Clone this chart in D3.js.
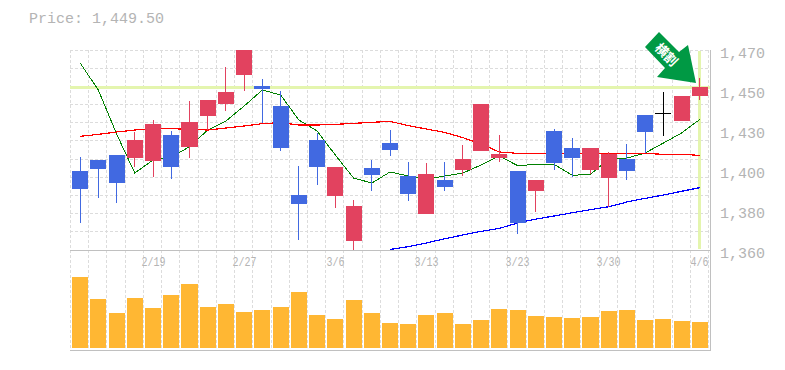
<!DOCTYPE html>
<html>
<head>
<meta charset="utf-8">
<script src="https://cdn.jsdelivr.net/npm/d3@7"></script>
<style>
  html, body { margin: 0; padding: 0; background: #fff; }
  text { font-family: "Liberation Mono", monospace; fill: #b4b4b4; }
</style>
</head>
<body>
<svg id="chart" width="785" height="370"></svg>
<script>
// 1. Data
const dates = ["2/19", "2/27", "3/6", "3/13", "3/23", "3/30", "4/6"];
const priceTicks = [1360, 1382, 1404, 1426, 1448, 1470];
const priceLabels = ["1,360", "1,380", "1,400", "1,430", "1,450", "1,470"];
const lastPrice = 1449.5;

const opens = [1403.5, 1409.5, 1412.25, 1410.6, 1408.95, 1423.25, 1416.65, 1433.7, 1440.3, 1456.25, 1450.2, 1439.2, 1390.25, 1420.5, 1389.7, 1365, 1405.1, 1418.85, 1400.7, 1379.8, 1398.5, 1404, 1414.45, 1410.6, 1403.45, 1392.45, 1425.45, 1416.1, 1404, 1399.6, 1410.05, 1434.25, 1435.2, 1430.95, 1444.7];
const closes = [1393.6, 1404.55, 1396.85, 1420.5, 1429.3, 1405.65, 1430.4, 1442.5, 1446.9, 1470, 1448.55, 1416.1, 1385.3, 1405.65, 1405.65, 1384.2, 1401.25, 1415, 1390.8, 1401.8, 1394.65, 1410.05, 1440.3, 1412.8, 1374.85, 1398.5, 1407.85, 1410.6, 1416.1, 1412.8, 1403.45, 1424.9, 1435.2, 1444.7, 1449.65];
const highs = [1411.2, 1409.5, 1412.25, 1424.9, 1431.5, 1425.45, 1441.95, 1442.5, 1460.65, 1470, 1454, 1447.45, 1406.2, 1424.35, 1405.65, 1387.5, 1409.5, 1426, 1408.4, 1407.85, 1408.4, 1417.75, 1440.3, 1423.25, 1403.45, 1398.5, 1426.55, 1421.6, 1416.1, 1413.9, 1418.3, 1434.25, 1446.9, 1444.7, 1454.6];
const lows = [1374.9, 1388.6, 1385.85, 1405.65, 1400.15, 1399.05, 1410.6, 1426, 1436.45, 1447.45, 1429.85, 1414.45, 1365.5, 1395.75, 1383.1, 1360, 1392.45, 1411.7, 1386.95, 1379.8, 1392.45, 1400.7, 1414.45, 1408.4, 1368.8, 1380.9, 1404, 1400.15, 1401.8, 1383.65, 1398.5, 1413.35, 1422.7, 1430.95, 1442.5];

const maShort = [1462.85, 1448, 1423.8, 1402.35, 1409.5, 1410.95, 1416.85, 1426, 1430.95, 1439.2, 1448, 1445.25, 1431.5, 1425.45, 1412.25, 1399.6, 1396.85, 1402.9, 1400.7, 1398.9, 1400.7, 1402.35, 1406.75, 1411.7, 1406.4, 1407.1, 1407.1, 1401.1, 1401.6, 1410.05, 1410.6, 1413.35, 1418.85, 1424.35, 1431.85];
const maMid = [1422.5, 1423.6, 1424.9, 1426, 1426.75, 1426.75, 1426.35, 1426, 1427.1, 1428.2, 1429.5, 1430.05, 1428.75, 1428.75, 1429.1, 1429.65, 1430.2, 1430.75, 1428.4, 1426.55, 1424.7, 1421.8, 1418.3, 1413.9, 1413.15, 1413.15, 1413.15, 1413.15, 1413.15, 1413.15, 1413.15, 1413.15, 1412.6, 1412.6, 1412.05];
const maLong = [null, null, null, null, null, null, null, null, null, null, null, null, null, null, null, null, null, 1360.3, 1361.85, 1363.85, 1366.2, 1368.25, 1370.25, 1371.9, 1374.85, 1377, 1378.7, 1380.5, 1382.2, 1383.8, 1386.4, 1388.4, 1390.25, 1392.3, 1394.3];

const volumes = [71, 49, 35, 50, 40, 53, 64, 41, 44, 36, 38, 41, 56, 33, 29, 48, 35, 25, 24, 33, 35, 24, 28, 39, 38, 32, 31, 30, 31, 37, 38, 28, 29, 27, 26];

// 2. Scales
const days = d3.range(opens.length);
const x = d3.scaleBand().domain(days).range([71, 709]).paddingInner(0.12).paddingOuter(0.06);
const gridX = d3.scaleLinear().domain([0, 35]).range([70.5, 708.5]);
const y = d3.scaleLinear().domain([1360, 1470]).range([250, 50]);
const yVol = d3.scaleLinear().domain([0, 100]).range([348, 248]);
const mid = i => x(i) + x.bandwidth() / 2;

const svg = d3.select("#chart");

svg.append("text")
    .attr("x", 29).attr("y", 23)
    .style("font-size", "15px")
    .text("Price: " + d3.format(",.2f")(lastPrice));

// 3. Grid
const grid = svg.append("g").attr("stroke", "#dcdcdc").attr("stroke-dasharray", "3,2").attr("shape-rendering", "crispEdges");
grid.selectAll(".v").data(d3.range(36)).enter().append("line")
    .attr("x1", d => Math.floor(gridX(d)) + 0.5).attr("x2", d => Math.floor(gridX(d)) + 0.5)
    .attr("y1", 50).attr("y2", 350);
grid.selectAll(".h").data(d3.range(1370, 1480, 10)).enter().append("line")
    .attr("x1", 70).attr("x2", 710)
    .attr("y1", d => Math.floor(y(d)) + 0.5).attr("y2", d => Math.floor(y(d)) + 0.5);

// 4. Current price highlight
const hi = svg.append("g").attr("stroke", "#e4f5ae").attr("stroke-width", 3).attr("shape-rendering", "crispEdges");
hi.append("line").attr("x1", 70).attr("x2", 710).attr("y1", y(lastPrice)).attr("y2", y(lastPrice));
hi.append("line").attr("x1", mid(34)).attr("x2", mid(34)).attr("y1", 51).attr("y2", 249);

// 5. Volume bars
svg.append("g").attr("shape-rendering", "crispEdges").selectAll("rect").data(volumes).enter().append("rect")
    .attr("x", (d, i) => x(i)).attr("width", x.bandwidth())
    .attr("y", d => yVol(d)).attr("height", d => yVol(0) - yVol(d))
    .attr("fill", "#ffb733");

// 6. Moving averages sit under the candles, all clipped to the price panel
svg.append("clipPath").attr("id", "panel").append("rect").attr("x", 70).attr("y", 50).attr("width", 640).attr("height", 200);
const plot = svg.append("g").attr("clip-path", "url(#panel)");

const maLine = d3.line().defined(d => d != null).x((d, i) => mid(i)).y(d => y(d));
[[maShort, "#008000", 1], [maMid, "#ff0000", 1.2], [maLong, "#0000ff", 1.2]].forEach(([s, c, w]) => {
    plot.append("path").datum(s)
        .attr("d", maLine).attr("fill", "none")
        .attr("stroke", c).attr("stroke-width", w).attr("shape-rendering", "crispEdges");
});

// 7. Candles
const candleColor = i => closes[i] > opens[i] ? "#e2425f" : closes[i] < opens[i] ? "#4169e1" : "#000";

plot.append("g").attr("shape-rendering", "crispEdges").selectAll("line").data(days).enter().append("line")
    .attr("x1", mid).attr("x2", mid)
    .attr("y1", i => y(highs[i])).attr("y2", i => y(lows[i]))
    .attr("stroke", candleColor);
plot.append("g").attr("shape-rendering", "crispEdges").selectAll("rect").data(days).enter().append("rect")
    .attr("x", x).attr("width", x.bandwidth())
    .attr("y", i => y(Math.max(opens[i], closes[i])))
    .attr("height", i => Math.max(1, Math.abs(y(opens[i]) - y(closes[i]))))
    .attr("fill", candleColor);

// 8. Frame lines
const frame = svg.append("g").attr("stroke", "#c0c0c0").attr("shape-rendering", "crispEdges");
frame.append("line").attr("x1", 70).attr("x2", 711).attr("y1", 250.5).attr("y2", 250.5);
frame.append("line").attr("x1", 70).attr("x2", 711).attr("y1", 350.5).attr("y2", 350.5);
frame.append("line").attr("x1", 710.5).attr("x2", 710.5).attr("y1", 50).attr("y2", 351);

// 9. Axes
const priceAxis = d3.axisRight(y).tickValues(priceTicks)
    .tickFormat((d, i) => priceLabels[i]).tickSize(0).tickPadding(0);
svg.append("g").attr("transform", "translate(720,3)").call(priceAxis)
    .call(g => g.select(".domain").remove())
    .selectAll("text").style("font-size", "15px");

const dateAxis = d3.axisBottom(d3.scalePoint().domain(dates).range([mid(4), mid(34) - 1]))
    .tickSize(0).tickPadding(0);
svg.append("g").attr("transform", "translate(0,257)").call(dateAxis)
    .call(g => g.select(".domain").remove())
    .selectAll("text").style("font-size", "12px")
    .attr("textLength", d => d.length * 6).attr("lengthAdjust", "spacingAndGlyphs");

// 10. Signal arrow
const arrow = svg.append("g");
arrow.append("polygon")
    .attr("points", "645,47 659,32 679,52 688,45 696,83 657,77 665,68")
    .attr("fill", "#009944");
arrow.append("text")
    .attr("transform", "translate(667,54) rotate(45)")
    .attr("text-anchor", "middle").attr("dominant-baseline", "central")
    .style("font-family", '"Noto Sans CJK JP"').style("font-size", "13px").style("font-weight", "bold")
    .style("fill", "#fff")
    .text("横割");
</script>
</body>
</html>
